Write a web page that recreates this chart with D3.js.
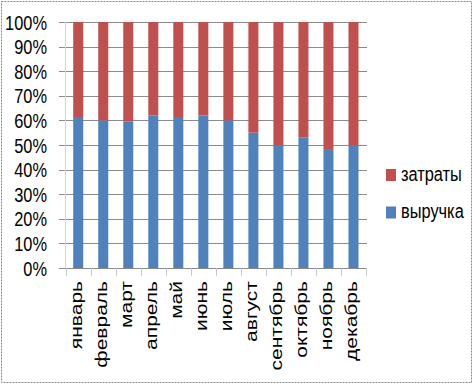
<!DOCTYPE html>
<html>
<head>
<meta charset="utf-8">
<script src="https://cdn.jsdelivr.net/npm/d3@7"></script>
<style>
  body { margin: 0; background: #fff; }
  text { font-family: "Liberation Sans", Arial, sans-serif; fill: #000; }
</style>
</head>
<body>
<div id="chart"></div>
<script>
var width = 475, height = 385;

// data (shares, %)
var months = ["январь", "февраль", "март", "апрель", "май", "июнь", "июль",
              "август", "сентябрь", "октябрь", "ноябрь", "декабрь"];
var revenue = [61, 60, 59.5, 62, 61, 62, 60, 55, 50, 53, 48, 50];   // выручка
var costs   = [39, 40, 40.5, 38, 39, 38, 40, 45, 50, 47, 52, 50];   // затраты
var seriesNames = ["выручка", "затраты"];
var yTicks = [0, 10, 20, 30, 40, 50, 60, 70, 80, 90, 100];

var colors = {"выручка": "#4F81BD", "затраты": "#C0504D"};
var squeeze = 0.78; // the picture's text is narrow

var table = months.map(function(m, i) {
  return {month: m, "выручка": revenue[i], "затраты": costs[i]};
});

var svg = d3.select("#chart").append("svg")
    .attr("width", width)
    .attr("height", height);

// outer frame
svg.append("rect")
   .attr("x", 1.5).attr("y", 1.5)
   .attr("width", 470).attr("height", 381)
   .attr("fill", "none")
   .attr("stroke", "#8a8a8a")
   .attr("stroke-dasharray", "2,1");

var x = d3.scaleBand().domain(months).range([65.7, 366]);
var y = d3.scaleLinear().domain([0, 100]).range([268, 22]);

// gridlines
svg.append("g").selectAll("line")
   .data(yTicks)
   .enter().append("line")
   .attr("x1", 59).attr("x2", 367)
   .attr("y1", function(d) { return Math.round(y(d)) + 0.5; })
   .attr("y2", function(d) { return Math.round(y(d)) + 0.5; })
   .attr("stroke", function(d) { return d === 0 ? "#8a8a8a" : "#8c8c8c"; });

// y axis line
svg.append("line")
   .attr("x1", 65.5).attr("x2", 65.5)
   .attr("y1", y(100)).attr("y2", y(0))
   .attr("stroke", "#d4d4d4");

// category ticks
svg.append("g").selectAll("line")
   .data(months.concat(["end"]))
   .enter().append("line")
   .attr("x1", function(d, i) { return Math.round(x.range()[0] + i * x.step()) + 0.5; })
   .attr("x2", function(d, i) { return Math.round(x.range()[0] + i * x.step()) + 0.5; })
   .attr("y1", y(0)).attr("y2", y(0) + 8)
   .attr("stroke", "#c8c8c8");

// y labels
svg.append("g").selectAll("text")
   .data(yTicks)
   .enter().append("text")
   .attr("transform", function(d) { return "translate(47," + y(d) + ") scale(" + squeeze + ",1)"; })
   .attr("dy", "0.36em")
   .attr("text-anchor", "end")
   .style("font-size", "21px")
   .text(function(d) { return d + "%"; });

// stacked bars
var stack = d3.stack().keys(seriesNames);
var layers = stack(table);
var barW = x.bandwidth() * 0.4;

svg.append("g").selectAll("g")
   .data(layers)
   .enter().append("g")
   .attr("fill", function(d) { return colors[d.key]; })
   .selectAll("rect")
   .data(function(d) { return d; })
   .enter().append("rect")
   .attr("x", function(d) { return x(d.data.month) + (x.bandwidth() - barW) / 2; })
   .attr("y", function(d) { return y(d[1]); })
   .attr("width", barW)
   .attr("height", function(d) { return y(d[0]) - y(d[1]); });

// month labels
svg.append("g").selectAll("text")
   .data(months)
   .enter().append("text")
   .attr("transform", function(d) {
     return "translate(" + (x(d) + x.bandwidth() / 2 + 3.3) + ",281) scale(" + squeeze + ",1) rotate(-90)";
   })
   .attr("text-anchor", "end")
   .style("font-size", "21px")
   .text(function(d) { return d; });

// legend
var legend = svg.append("g").selectAll("g")
   .data(["затраты", "выручка"])
   .enter().append("g")
   .attr("transform", function(d, i) { return "translate(386," + (169 + i * 37.5) + ")"; });

legend.append("rect")
   .attr("width", 10).attr("height", 12)
   .attr("fill", function(d) { return colors[d]; });

legend.append("text")
   .attr("transform", "translate(15,11.5) scale(" + squeeze + ",1)")
   .style("font-size", "21px")
   .text(function(d) { return d; });
</script>
</body>
</html>
